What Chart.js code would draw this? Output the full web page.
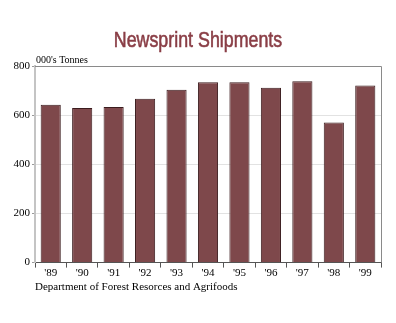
<!DOCTYPE html>
<html>
<head>
<meta charset="utf-8">
<script src="https://cdn.jsdelivr.net/npm/chart.js@4"></script>
<style>
  html, body { margin: 0; padding: 0; background: #fff; }
  #wrap { width: 396px; height: 323px; }
</style>
</head>
<body>
<div id="wrap"><canvas id="shipChart"></canvas></div>
<script>
const years = ["'89", "'90", "'91", "'92", "'93", "'94", "'95", "'96", "'97", "'98", "'99"];
const shipments = [642, 629, 633, 667, 703, 734, 734, 711, 738, 570, 721];
const yTicks = [0, 200, 400, 600, 800];

const chartTitle = "Newsprint Shipments";
const unitLabel = "000's Tonnes";

const serif = "'Liberation Serif', 'Times New Roman', serif";

// narrow title, grey frame on top and right, unit label above the plot
const framePlugin = {
    id: "frame",
    afterDraw(chart) {
        const { ctx, chartArea: a, width } = chart;
        ctx.save();
        ctx.strokeStyle = "#8a8a8a";
        ctx.lineWidth = 1;
        ctx.beginPath();
        ctx.moveTo(a.left, a.top + 0.5);
        ctx.lineTo(a.right + 0.5, a.top + 0.5);
        ctx.lineTo(a.right + 0.5, a.bottom);
        ctx.stroke();

        ctx.fillStyle = "#000";
        ctx.font = "10px " + serif;
        ctx.textBaseline = "bottom";
        ctx.textAlign = "left";
        ctx.fillText(unitLabel, a.left + 1, a.top - 1);

        ctx.fillStyle = "#8a3e46";
        ctx.strokeStyle = "#8a3e46";
        ctx.lineWidth = 0.6;
        ctx.font = "22px 'Liberation Sans', Arial, sans-serif";
        ctx.textAlign = "center";
        ctx.textBaseline = "alphabetic";
        ctx.translate(width / 2, 47);
        ctx.scale(0.81, 1);
        ctx.fillText(chartTitle, 0, 0);
        ctx.strokeText(chartTitle, 0, 0);
        ctx.restore();
    }
};

new Chart(document.getElementById("shipChart"), {
    type: "bar",
    data: {
        labels: years,
        datasets: [{
            data: shipments,
            backgroundColor: "#7e484b",
            borderColor: "#3b1c1e",
            borderWidth: { top: 1, left: 1, right: 1, bottom: 0 },
            borderSkipped: "bottom",
            categoryPercentage: 1,
            barPercentage: 0.64
        }]
    },
    options: {
        responsive: true,
        maintainAspectRatio: false,
        animation: false,
        layout: { padding: { left: 0, right: 15, top: 66, bottom: 29 } },
        plugins: {
            legend: { display: false },
            tooltip: { enabled: false },
            title: { display: false }
        },
        scales: {
            x: {
                grid: {
                    offset: true,
                    drawOnChartArea: false,
                    drawTicks: true,
                    tickLength: 5,
                    color: "#555"
                },
                border: { color: "#555", width: 1 },
                ticks: { color: "#000", font: { family: serif, size: 11 }, padding: -1 },
                title: {
                    display: true,
                    text: "Department of Forest Resorces and Agrifoods",
                    align: "start",
                    color: "#000",
                    font: { family: serif, size: 11 },
                    padding: { top: 2, bottom: 0 }
                }
            },
            y: {
                min: 0,
                max: 800,
                afterFit(scale) { scale.width = 35; },
                afterBuildTicks(scale) { scale.ticks = yTicks.map(v => ({ value: v })); },
                grid: {
                    color: "#e2e2e2",
                    tickColor: "#999",
                    tickLength: 3,
                    drawTicks: true
                },
                border: { color: "#c4c4c4", width: 2 },
                ticks: { color: "#000", font: { family: serif, size: 11 }, padding: 2 }
            }
        }
    },
    plugins: [framePlugin]
});
</script>
</body>
</html>
